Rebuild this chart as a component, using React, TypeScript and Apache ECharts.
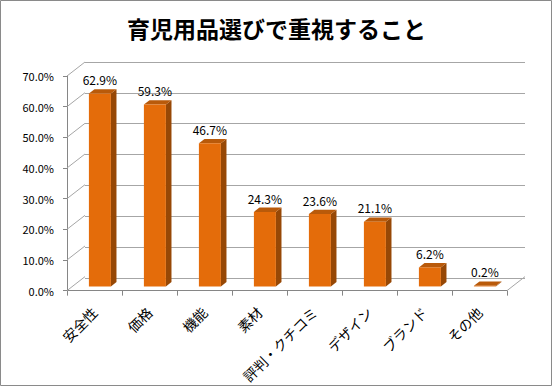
import React, { useEffect, useRef } from "react";
import * as echarts from "echarts";

const categories = ["安全性", "価格", "機能", "素材", "評判・クチコミ", "デザイン", "ブランド", "その他"];
const values = [62.9, 59.3, 46.7, 24.3, 23.6, 21.1, 6.2, 0.2];
const yTicks = [0, 10, 20, 30, 40, 50, 60, 70];
const titleText = "育児用品選びで重視すること";

const DX = 18;
const DY = -14;
const FRONT = 0.3;
const DEPTH = 0.31;
const BAR_W = 0.4;
const FONT = "'Noto Sans CJK JP', 'Noto Sans', sans-serif";
const GRID_COLOR = "#a6a6a6";

export default function App() {
  const ref = useRef<HTMLDivElement>(null);
  useEffect(() => {
    document.body.style.margin = "0";
    const chart = echarts.init(ref.current!, null, { renderer: "svg" });
    const left = 67, right = 553 - 507, top = 76, bottom = 386 - 292;
    chart.setOption({
      animation: false,
      backgroundColor: "#ffffff",
      title: {
        text: titleText,
        left: "center",
        top: 11,
        textStyle: { fontFamily: FONT, fontSize: 23, fontWeight: "bold", color: "#000" },
      },
      graphic: [
        {
          type: "rect",
          shape: { x: 0.5, y: 0.5, width: 551, height: 385 },
          style: { fill: "none", stroke: "#8a8a8a", lineWidth: 1 },
          silent: true,
          z: 100,
        },
      ],
      grid: [
        { left, right, top, bottom },
        { left: left + DX, right: right - DX, top: top + DY, bottom: bottom - DY },
      ],
      xAxis: [
        {
          type: "category",
          gridIndex: 0,
          data: categories,
          axisLine: { show: true, lineStyle: { color: "#868686", width: 1 } },
          axisTick: { show: true, alignWithLabel: false, length: 5, lineStyle: { color: "#868686" } },
          axisLabel: {
            interval: 0,
            rotate: 45,
            margin: 19,
            fontFamily: FONT,
            fontSize: 14,
            color: "#000",
          },
          splitLine: { show: false },
        },
        { type: "category", gridIndex: 1, data: categories, show: false },
      ],
      yAxis: [
        {
          type: "value",
          gridIndex: 0,
          min: 0,
          max: 70,
          interval: 10,
          axisLine: { show: true, lineStyle: { color: "#868686", width: 1 } },
          axisTick: { show: true, length: 4, lineStyle: { color: "#868686" } },
          axisLabel: {
            margin: 13,
            fontFamily: FONT,
            fontSize: 11,
            color: "#000",
            formatter: (v: number) => v.toFixed(1) + "%",
          },
          splitLine: { show: false },
        },
        {
          type: "value",
          gridIndex: 1,
          min: 0,
          max: 70,
          interval: 10,
          axisLine: { show: false },
          axisTick: { show: false },
          axisLabel: { show: false },
          splitLine: { show: true, lineStyle: { color: GRID_COLOR, width: 1 } },
        },
      ],
      series: [
        {
          type: "custom",
          xAxisIndex: 0,
          yAxisIndex: 0,
          clip: false,
          silent: true,
          z: 1,
          data: yTicks.map((v) => [0, v]),
          renderItem: (params: any, api: any) => {
            const v = api.value(1);
            const p = api.coord([0, v]);
            const band = api.size([1, 0])[0];
            const x0 = p[0] - band / 2;
            const children: any[] = [
              {
                type: "line",
                shape: { x1: x0, y1: p[1], x2: x0 + DX, y2: p[1] + DY },
                style: { stroke: GRID_COLOR, lineWidth: 1 },
              },
            ];
            if (v === 0) {
              const pr = api.coord([categories.length - 1, 0]);
              const xr = pr[0] + band / 2;
              children.push({
                type: "line",
                shape: { x1: xr, y1: pr[1], x2: xr + DX, y2: pr[1] + DY },
                style: { stroke: GRID_COLOR, lineWidth: 1 },
              });
            }
            return { type: "group", children };
          },
        },
        {
          type: "custom",
          xAxisIndex: 0,
          yAxisIndex: 0,
          clip: false,
          silent: true,
          z: 5,
          data: values.map((v, i) => [i, v]),
          renderItem: (params: any, api: any) => {
            const i = api.value(0);
            const v = api.value(1);
            const p0 = api.coord([i, 0]);
            const p1 = api.coord([i, v]);
            const band = api.size([1, 0])[0];
            const w = band * BAR_W;
            const fx = FRONT * DX, fy = FRONT * DY;
            const bdx = DEPTH * DX, bdy = DEPTH * DY;
            const x1 = p0[0] + fx - w / 2;
            const x2 = x1 + w;
            const yb = p0[1] + fy;
            const yt = p1[1] + fy;
            return {
              type: "group",
              children: [
                {
                  type: "polygon",
                  shape: { points: [[x2, yt], [x2 + bdx, yt + bdy], [x2 + bdx, yb + bdy], [x2, yb]] },
                  style: { fill: "#974806" },
                },
                {
                  type: "polygon",
                  shape: { points: [[x1, yt], [x2, yt], [x2 + bdx, yt + bdy], [x1 + bdx, yt + bdy]] },
                  style: { fill: "#b95a0a" },
                },
                {
                  type: "rect",
                  shape: { x: x1, y: yt, width: w, height: yb - yt },
                  style: { fill: "#e46c0a" },
                },
                {
                  type: "text",
                  style: {
                    x: (x1 + x2) / 2,
                    y: yt + bdy - 9.5,
                    text: v.toFixed(1) + "%",
                    align: "center",
                    verticalAlign: "middle",
                    fontFamily: FONT,
                    fontSize: 12,
                    fill: "#000",
                  },
                },
              ],
            };
          },
        },
      ],
    });
    return () => chart.dispose();
  }, []);
  return <div ref={ref} style={{ position: "fixed", left: 0, top: 0, width: 553, height: 386 }} />;
}
